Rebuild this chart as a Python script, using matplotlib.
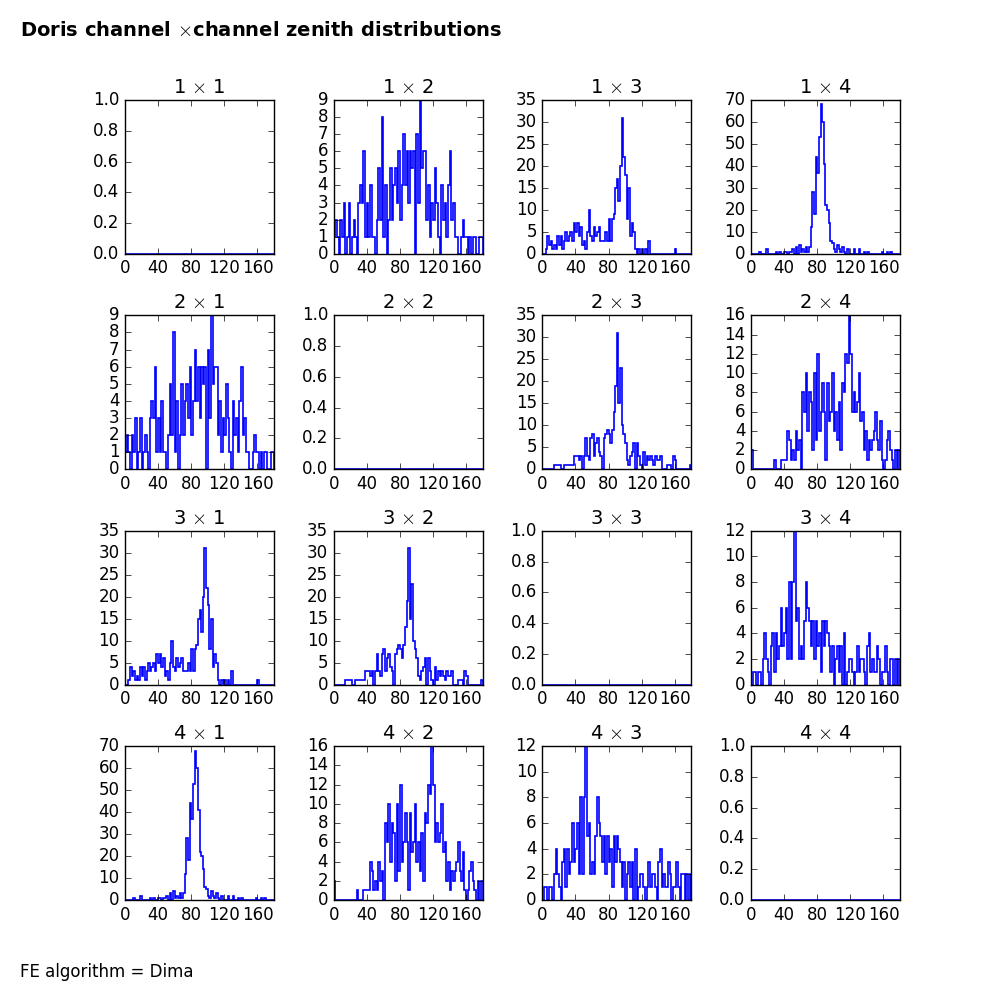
import numpy as np
import matplotlib.pyplot as plt

plt.style.use("classic")

# zenith histograms, 2 degree bins from 0 to 180 (matrix is symmetric)
zen_1_2 = [1, 2, 1, 0, 2, 1, 3, 0, 1, 3, 0, 1, 2, 1, 0, 3, 4, 3, 6, 1,
           3, 1, 4, 1, 1, 0, 2, 5, 2, 8, 1, 4, 0, 2, 5, 2, 4, 5, 3, 6,
           2, 4, 7, 4, 6, 3, 6, 5, 6, 0, 7, 3, 9, 5, 6, 6, 2, 4, 1, 3,
           2, 5, 3, 1, 0, 4, 2, 3, 1, 4, 6, 2, 3, 1, 1, 0, 0, 1, 2, 1,
           1, 0, 1, 0, 1, 1, 0, 0, 1, 1]
zen_1_3 = [0, 0, 1, 4, 2, 3, 1, 2, 1, 4, 2, 4, 1, 3, 5, 3, 4, 5, 3, 7,
           5, 7, 4, 6, 2, 3, 1, 5, 10, 4, 3, 6, 4, 5, 6, 3, 3, 3, 5, 3,
           8, 3, 8, 9, 15, 17, 12, 20, 31, 22, 18, 8, 15, 4, 7, 5, 1, 0, 1, 0,
           1, 0, 1, 0, 3, 0, 0, 0, 0, 0, 0, 0, 0, 0, 0, 0, 0, 0, 0, 0,
           1, 0, 0, 0, 0, 0, 0, 0, 0, 0]
zen_1_4 = [0, 0, 0, 0, 0, 1, 0, 0, 0, 2, 0, 0, 0, 0, 0, 1, 0, 1, 0, 0,
           1, 1, 0, 1, 1, 2, 0, 3, 0, 4, 1, 2, 1, 3, 1, 3, 12, 28, 18, 44,
           37, 53, 68, 60, 41, 22, 20, 14, 6, 5, 2, 1, 4, 2, 1, 3, 1, 0, 2, 0,
           0, 0, 2, 0, 0, 2, 0, 0, 1, 0, 1, 0, 0, 0, 0, 0, 0, 0, 0, 1,
           0, 0, 1, 0, 1, 0, 0, 0, 0, 0]
zen_2_3 = [0, 0, 0, 0, 0, 0, 0, 1, 1, 1, 1, 0, 0, 1, 1, 1, 1, 1, 1, 3,
           3, 3, 2, 3, 0, 3, 7, 3, 2, 7, 8, 3, 6, 7, 4, 3, 0, 7, 8, 9,
           8, 6, 9, 13, 19, 31, 15, 23, 10, 8, 6, 2, 1, 3, 4, 6, 0, 6, 3, 1,
           0, 4, 1, 3, 2, 3, 2, 1, 3, 2, 2, 3, 0, 0, 0, 1, 1, 1, 0, 3,
           2, 0, 0, 0, 0, 0, 0, 0, 0, 1]
zen_2_4 = [2, 0, 0, 0, 0, 0, 0, 0, 0, 0, 0, 0, 0, 0, 1, 0, 0, 0, 1, 1,
           1, 1, 4, 3, 1, 2, 1, 4, 2, 3, 0, 8, 6, 10, 4, 8, 7, 2, 10, 3,
           12, 4, 6, 9, 6, 1, 9, 5, 6, 10, 4, 6, 3, 7, 2, 9, 8, 12, 11, 16,
           12, 6, 8, 6, 7, 10, 5, 6, 2, 4, 1, 3, 2, 3, 4, 6, 3, 2, 5, 1,
           0, 1, 3, 4, 2, 1, 0, 2, 0, 2]
zen_3_4 = [0, 1, 1, 0, 1, 1, 0, 2, 4, 2, 1, 0, 3, 4, 1, 4, 2, 3, 6, 3,
           4, 6, 2, 8, 2, 8, 12, 5, 6, 2, 3, 2, 5, 8, 6, 5, 3, 5, 2, 5,
           3, 4, 1, 5, 3, 5, 4, 3, 1, 3, 0, 2, 3, 1, 3, 0, 4, 0, 1, 2,
           2, 1, 0, 1, 3, 1, 2, 2, 1, 0, 3, 4, 1, 2, 1, 1, 3, 2, 0, 1,
           1, 3, 1, 0, 2, 2, 0, 2, 0, 2]

pairs = {(1, 2): zen_1_2, (1, 3): zen_1_3, (1, 4): zen_1_4,
         (2, 3): zen_2_3, (2, 4): zen_2_4, (3, 4): zen_3_4}

edges = np.arange(0, 182, 2)
centers = edges[:-1] + 1

fig, axes = plt.subplots(4, 4, figsize=(10, 10), dpi=100)
fig.subplots_adjust(left=0.125, right=0.9, bottom=0.1, top=0.9,
                    wspace=0.4, hspace=0.4)

for i in range(1, 5):
    for j in range(1, 5):
        ax = axes[i - 1][j - 1]
        if i == j:
            counts = np.zeros(len(centers))
        else:
            counts = np.array(pairs[(min(i, j), max(i, j))])
        ax.hist(centers, bins=edges, weights=counts, histtype="step",
                color="b", linewidth=1.2)
        ax.set_xlim(0, 180)
        ax.set_xticks([0, 40, 80, 120, 160])
        if i == j:
            ax.set_ylim(0, 1)
        ax.set_title("%d $\\times$ %d" % (i, j), fontsize=14)
        ax.tick_params(labelsize=12)

fig.text(0.02, 0.97, "Doris channel $\\times$channel zenith distributions",
         fontsize=14, fontweight="bold", ha="left", va="center")
fig.text(0.02, 0.028, "FE algorithm = Dima", fontsize=12, ha="left", va="center")

fig.savefig("out.png", dpi=100)
